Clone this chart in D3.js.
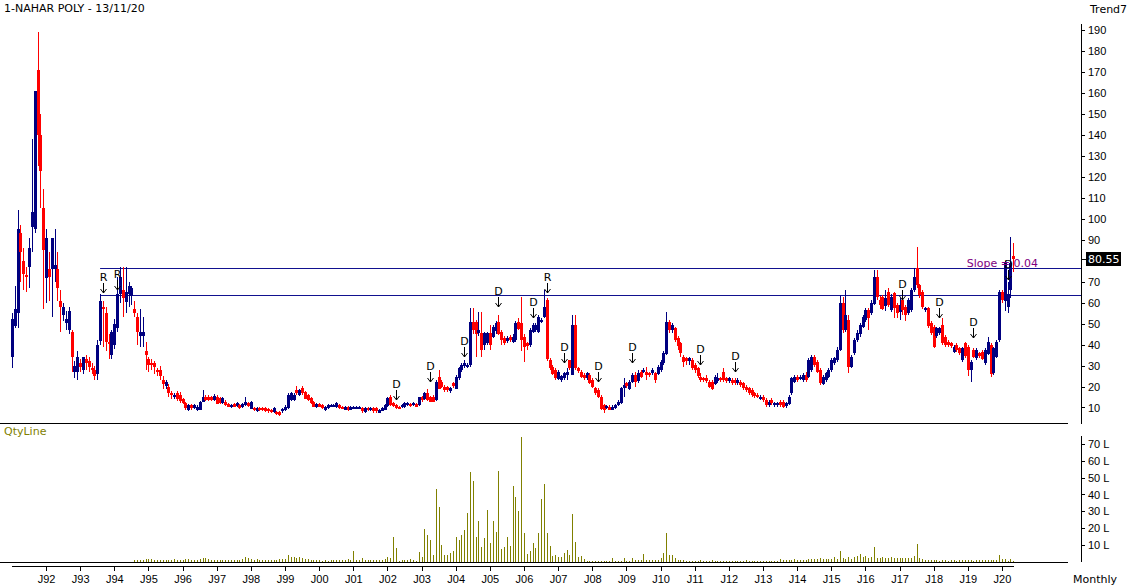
<!DOCTYPE html>
<html>
  <head>
    <meta charset="utf-8">
    <title>1-NAHAR POLY - Monthly</title>
    <script src="https://d3js.org/d3.v7.min.js"></script>
    <style>
      body { margin: 0; background: #fff; }
      svg { display: block; font-family: "DejaVu Sans", Verdana, sans-serif; font-size: 11px; }
      .axis path, .axis line { stroke: #000; shape-rendering: crispEdges; }
      .axis text { fill: #000; font-size: 11px; }
    </style>
  </head>
  <body>
    <div id="chart"></div>
    <script>
      // Monthly candles, Jan 1991 onwards (one row per year)
      const open = [
        34,49,55,93,80,73,77,96,95,171,140,105,
        72,76,76,76,76,61,54,50,47,46,27,27,
        31,28,33,32,29,28,26,42,58,55,41,35,
        40,48,64,66,60,64,63,57,53,44,44,37,
        33,31,31,28,28,23,20,20,17,15,17,16,
        14,12,8.8,11.2,9.6,8.8,8.8,12.8,15.2,15.2,14.8,13.6,
        15.2,14.4,12,12.8,11.7,10.1,11.7,10.4,11.2,10,11.2,12,
        9.6,9.6,8,9.6,9.6,9.6,9.1,8.8,7.6,8,8,8,
        8.8,9.6,13.6,13.6,18.3,16,19.1,17.5,16,14.4,12.8,10.1,
        11.7,11.2,8.8,9.6,10.4,10.4,10,11.2,10.4,9.2,10.4,9.2,
        9.6,9.6,9.6,9.6,8,9.9,8.8,9.6,9.6,7.6,8.6,8.8,
        10.4,15.2,12,11.2,10.4,10.2,10.2,11,11.8,11,11.6,11.2,
        15.2,14,16.8,15.2,15.2,13.6,24.7,22.3,19.9,19.9,17.5,21.5,
        19.1,23.9,27.9,29.5,29.5,30.3,50.9,50.9,45.4,45.4,39.8,40.6,
        45.4,43.8,46.2,50.9,46.2,43,41.4,43.5,41.4,42.2,50.9,50.1,
        43.8,40.6,39.8,46.2,46.9,46.2,50.9,53.3,61.3,32.6,29.5,27.9,
        23.9,23.1,23.9,25.5,32.6,25.5,49.3,28.7,27.1,25.5,23.9,25.5,
        23.1,19.1,18.3,15.2,11.2,9.6,10.4,9.1,9.6,11.2,12,19.1,
        21.5,19.1,22.3,25.5,22.3,27.1,27.1,27.1,26.5,26.3,26.3,26.3,
        27.9,31,35.8,50.9,46.9,47.7,43,40.6,34.2,33.4,31.8,32.6,
        30.2,28.6,24.7,23.9,23.9,22.3,22.3,21.5,22.3,23.9,27.1,23.9,
        22.3,23.1,23.1,21.5,22.3,21.5,19.9,19.1,18.3,16.7,15.9,14.3,
        15.1,13.5,11.2,13.5,11.2,11.2,12.7,12.7,10.4,12,16.7,22.3,
        24.7,23.9,23.1,25.5,24.7,27.9,34.2,31.8,27.9,21.5,23.1,24.7,
        27.8,31,32.6,37.4,59.6,46.9,51.7,29.4,36,42.1,45,48.5,
        51.7,56.5,54.9,59.6,72.3,61.2,62.8,58,65.2,56.5,64.4,58.8,
        55.7,61.2,58,54.9,56.5,66,76.3,68.4,65.2,56.5,57.3,50.1,
        48.5,43.7,45.3,49.3,43.7,41.4,40.6,36.6,39.8,38.2,32.6,40.6,
        39,27.8,37.4,33.4,35.8,36.6,31,35.8,39.8,26.2,34.2,42.1,
        65.2,61,58,66,82
      ];
      const high = [
        55,68,104,97,86,77,91,138,161,189,150,114,
        95,84,91,95,84,66,60,56,58,47,32,37,
        33,34,35,34,31,30,42,64,61,58,45,47,
        52,72,77,77,77,70,68,61,55,57,53,41,
        34,33,32,29,30,25,23,21,18,17,18,17.5,
        14.5,12.5,11.6,11.8,11.6,11,13.2,18.3,16,16,15.6,16.2,
        15.8,15,15,13.4,12.2,11.8,12,12.6,11.8,12,15.2,12.4,
        13.2,10,10,10,10,10,9.6,9.2,10,8.4,8.4,9.6,
        11,16.8,17.6,17,20.3,19,20.3,18,16.5,15,13.2,12.2,
        12,11.6,10.8,11.6,11.6,11.8,12.8,11.6,10.8,10.8,10.8,10.8,
        10.8,10.8,10.8,10,10.2,10.2,10,10,10,9.2,10.2,11.6,
        15,16,12.4,11.6,10.8,11.6,12.4,12.4,12.2,12.4,12,15.2,
        15.6,17.2,19,15.6,16,23,27.9,23,20.7,20.3,19.9,22.3,
        25.5,29.5,31,32.6,31,57.3,57.3,51.7,55.7,55.7,46.2,46.2,
        49.3,49.3,51,54.1,47,44,44,44.6,45,51,52.5,62.8,
        45,41.4,47.7,50.1,50.1,54,52.5,66,62,33.4,30.3,28.7,
        27.9,25.5,27.1,28.7,32.6,54.1,54.1,29.5,27.9,26.3,27.1,26.3,
        23.9,19.9,19.1,16,11.6,11,11,11,11.6,13.6,19.9,23.9,
        22.3,23.1,26.3,27.1,27.9,28,28.7,29.5,27.1,28.7,27.1,30.3,
        32.6,37,55.7,51.7,50.1,48.5,44,41.4,35,34.2,34.2,33.4,
        31,29.4,26.3,24.7,25.5,23.1,23.1,25.5,26.3,24.7,28.6,24.7,
        24.7,23.9,23.9,23.9,23.1,22.3,20.7,19.9,19.1,17.5,16.7,15.9,
        15.9,14.3,13.5,14.3,12.7,12.7,13.5,13.5,12.7,15.9,24.7,25.5,
        25.5,25.5,26.3,27.1,33.4,35,35,32.6,28.6,25.5,27,28.6,
        33.4,34.2,39,63.6,62.8,66,54,35,43,46.9,50.1,54.1,
        57.3,57.3,61.2,75.5,75.5,63,63.6,66,67,64,65.2,60,
        62,66,59,62,67,76.3,86.6,69,66,58,58,51,
        49.3,48.5,48.5,52.5,44.5,42.1,41.4,39.8,40.6,39,39,41.4,
        39.8,32.6,38.2,38.2,36.6,37.4,38.2,43.7,40.6,39,42.1,66,
        66,80,70,91.4,88.4
      ];
      const low = [
        29,48,48,70,66,65,67,84,93,125,105,57,
        60,61,53,70,61,46,51,47,45,27,24,23,
        27,26,28,27,26,23,23,40,39,37,33,33,
        38,46,60,53,55,58,59,53,40,39,39,28,
        27,28,26,25,23,19,19,15,14,14,13,12,
        11.5,9,8.5,9,9.2,8.4,8.6,12.4,13,13,13,13.2,
        11.5,11.6,11.6,10.8,10,9.8,10,10,9.2,9.6,10.8,10,
        9.2,8.4,7.8,8.4,8.4,8,7.6,7.4,7.2,6.4,6,7.6,
        8.4,9.2,13,13,16,15.5,16,14,13,11.5,10,9.8,
        10,9.2,8.4,9.2,10,10,9.6,9.2,9.2,8.8,8.4,8.8,
        9.2,9.2,9.2,7.6,7.6,8.4,8.4,7.6,7.6,7.2,8.4,8.6,
        10,10.8,10.4,9.2,9.2,9.8,9.8,10.6,10.4,10.6,10,10.8,
        12.4,13.6,13.2,12.4,12.4,13.2,18.7,19.1,17.5,17.5,16.8,19.1,
        18.7,23.1,27.1,28.7,28.7,29.5,45,34.2,44,34.2,37.4,39.8,
        37.4,43,45,44.6,40,39.8,40.6,41.4,40.6,41.4,46.9,37,
        31.8,37.4,39,45.4,46.2,45.4,50.1,52.5,32,27.9,25.5,23.1,
        23.1,22.3,23.1,23.1,27.9,25.5,27.9,26.3,23.9,23.1,23.1,21,
        19.1,16,14.4,8.8,7.2,9.1,8.8,8.8,9.1,10.7,11.6,15.2,
        19.1,18.3,21.5,19.9,21.5,24,26.3,23.1,24.7,25.5,21.5,25.5,
        27.1,30.3,35,45.4,45.4,41.4,37.4,34.2,29.4,30.2,30.2,27.9,
        26.3,24,22.3,22.3,21.5,19.1,18.3,20.7,21.5,22.3,22.3,21.5,
        21.5,20.7,20.7,20.7,19.9,18.3,17.5,16,15.1,14.3,14.3,13.5,
        12.7,10.4,10.4,11.2,10.4,10.4,10.4,9.6,9.6,11.2,15.9,21.5,
        22.3,23.1,22.3,22.3,24,27.1,29.4,26.3,20.7,20.7,22.3,24,
        27,30.2,31.8,37,45.3,46,26.2,28.6,35,41.4,43.7,47.7,
        50.9,46.9,54.1,59,61.2,57,56.5,56,58,55.7,52.5,52.5,
        51.7,54.1,51,54,55.7,65.2,67,62,57,55.7,47.7,44.5,
        38.2,42.9,44.5,39.8,39,39,38.2,35.8,36.6,35,31.8,33.4,
        25,22.3,33.4,32.6,33.4,32.6,30.2,35,24.7,25.4,33.4,41.4,
        60,56,55,62,74.6
      ];
      const close = [
        52,57,95,84,74,72,86,103,161,140,123,85,
        91,72,91,78,67,58,58,52,56,34,30,34,
        29,34,31,29,28,25,40,61,57,41,40,46,
        50,64,72,62,65,68,67,55,46,46,46,35,
        30,30,29,27,25,21,22,17,16,16,14,13,
        12,9.6,11.2,9.6,11.2,10.4,12.8,15.2,13.6,13.6,13.6,15.5,
        12,12,14.4,11.2,10.4,11.2,10.4,12,9.6,11.5,12.8,10.4,
        12.8,8.8,9.6,8.8,8.8,8.4,8,8,9.6,6.9,6.4,9.1,
        10.4,16,16.8,16,16.8,18.3,16.8,14.4,13.6,12,10.4,11.7,
        10.4,9.6,10.4,11.2,11.2,11.2,12,9.6,9.6,10.4,8.8,10.4,
        10.4,10.4,10.4,8,9.9,8.8,9.6,8,8,8.8,9.9,11.2,
        14.4,11.2,10.8,9.6,9.6,11.2,12,12,10.8,12,10.4,14.8,
        13.6,16.8,13.6,12.8,12.8,22.3,19.1,19.9,18.3,18.3,19.1,19.9,
        24.7,28.7,30.3,31,30.3,50.9,46.9,45.4,46.9,37.4,45.4,45.4,
        39.8,48.5,50.1,45.4,42.2,40.6,43,42.2,43.8,50.1,47.7,42.2,
        39,39,46.9,49.3,49.3,53.3,51.7,58.1,33.4,28.7,26.3,23.9,
        27.1,25,26.3,27.1,28.7,49.3,28.7,27.1,24.7,23.9,26.3,21.5,
        19.9,16.8,15.2,9.6,8.8,10.7,9.1,10.4,11.2,12.8,19.1,20.7,
        19.9,22.3,25.5,22.3,26.3,24.7,27.9,25.5,25.5,27.9,23.1,29.5,
        31.8,35.8,50.9,46.9,49.3,42.2,39,35.8,31.8,31.8,33.4,28.6,
        27.9,24.7,23.1,23.1,22.3,19.9,19.1,24.7,23.9,23.1,23.1,22.3,
        23.9,21.5,21.5,23.1,20.7,19.1,18.3,16.7,15.9,15.1,15.1,15.1,
        13.5,11.2,12.7,12,12,12,11.2,10.4,12,15.1,23.9,24.7,
        23.1,24.7,25.5,23.1,32.6,34.2,30.2,27.1,21.5,24.7,26.2,27.8,
        32.6,33.4,37.4,59.6,46.9,54,29.4,34.2,42.1,45.3,49.3,53.3,
        56.5,52.5,59.6,72.3,62.8,58.8,57.3,62,59,62.8,57.3,54.9,
        58.8,56.5,54.1,61.2,66,72.3,68.4,63.6,58,57.3,48.5,45.3,
        39,47.7,47.7,40.6,39.8,39.8,39,39,37.4,36,38.2,34.2,
        27.8,31.8,34.2,37.4,34.2,33.4,37.4,41.4,26.2,38.2,41.4,65.2,
        61.2,79,64,79,80.55
      ];
      // Monthly quantity, in lakhs
      const qty = [
        0,0,0,0,0,0,0,0,0,0,0,0,
        0,0,0,0,0,0,0,0,0,0,0,0,
        0,0,0,0,0,0,0,0,0,0,0,0,
        0,0,0,0,0,0,0,1.2,1,1.3,1.2,1.4,
        1.5,1.4,1,1,1.1,0.9,1,1,1.2,1.4,1.1,1,
        1.3,1.4,1.5,1.2,1,1.1,1.6,2.5,2,1.4,1.2,1.3,
        1.1,1.2,1,0.9,1,1.1,1.2,1,1.1,1.4,3,2,
        1.6,1.2,1.4,1,1.1,1,1.2,1,1.1,1.2,1.5,1.4,
        1.4,4.2,2.8,3,2.4,3,2,1.6,1.5,1.1,1,1,
        0.9,0.6,1,0.7,0.8,1,0.9,1,1.2,1,1.4,1,
        6.6,0.8,1.1,2.5,1.2,1,1.1,1,1.2,1,1,1.4,
        3,2,14.9,8.3,0.6,1,1,1,1.8,1,0.6,6,
        3,19.7,16,12.9,4,43.3,32.8,10,4,4.2,5.4,6.4,
        14.9,13,16,18.9,28.8,53.6,48,14.9,24.4,9,14.3,30.8,
        11.4,24.2,17.9,54,7.6,9,14.9,9.4,45,38.7,30.4,74.3,
        16.9,4.6,6.4,11.4,8.2,16.9,37.3,46.2,16.9,9.4,3.4,4,
        3,3,5.3,7,4,28.2,11.9,3,3.4,1.4,0.6,0.5,
        0.5,0.5,0.5,0.7,0.7,0.7,0.7,2,0.6,0.6,0.6,2.2,
        0.6,0.6,2.2,1,1,0.8,4.6,1.2,1.2,1.2,1.2,1.2,
        2.4,5,16.9,4,4,2,1,0.8,0.8,0.6,0.6,0.6,
        0.6,0.6,0.8,0.6,0.6,0.6,0.8,0.6,0.6,0.6,0.6,0.6,
        0.6,0.6,0.6,0.6,0.6,0.6,0.8,0.6,0.6,0.6,0.5,0.5,
        0.5,0.5,0.5,0.5,0.5,0.5,1.6,1,1,1,1,1.8,
        1.3,1.3,1.3,1.3,1.6,1.8,1.6,1.8,2,1.5,1.5,1.6,
        1.5,2.6,1.5,6.4,2,1.4,2.8,1.4,2.6,3.4,4.8,3,
        3.6,2.2,3,9,2.5,2.5,2.6,2.4,2.5,2.6,2,2,
        2,2,2.2,2,2,3.4,10.6,2,1.6,0.8,0.8,0.8,
        0.9,0.8,0.7,0.8,0.8,0.7,0.8,0.8,0.7,0.8,0.9,0.8,
        0.8,0.8,0.7,0.8,1,0.8,1,1.2,1,0.8,1,4,
        1.4,1.6,0.6,1.4,0.5
      ];

      // Year labels sit on every January candle, starting Jan 1992
      const yearLabels = ["J92","J93","J94","J95","J96","J97","J98","J99","J00","J01","J02","J03","J04","J05",
        "J06","J07","J08","J09","J10","J11","J12","J13","J14","J15","J16","J17","J18","J19","J20"];
      // 80 is hidden behind the last-close tag
      const priceTicks = [10,20,30,40,50,60,70,90,100,110,120,130,140,150,160,170,180,190];
      const qtyTicks = [10,20,30,40,50,60,70];

      // Support / resistance levels and the signal markers
      const levels = [76.7, 63.8];
      const levelStart = 31;
      const slopeText = "Slope = 0.04";
      const markIdx = [32, 37, 135, 147, 159, 171, 183, 188, 194, 206, 218, 242, 254, 313, 326, 338, 350];
      const markText = ["R","R","D","D","D","D","D","R","D","D","D","D","D","D","D","D","D"];
      const markTip = [64.4, 66, 13.6, 22.1, 34, 57.9, 52.7, 64.6, 31.2, 22.1, 31.2, 30.2, 26.9, 61.2, 52.7, 43.1, 70.8];

      const N = close.length;
      const up = "#000080", down = "#ff0000", olive = "#808000";

      const svg = d3.select("#chart").append("svg")
        .attr("width", 1133)
        .attr("height", 587);

      // Scales
      const x = d3.scaleLinear().domain([0, N - 1]).range([11.9, 1013.3]);
      const y = d3.scaleLinear().domain([2.6, 193.3]).range([423, 23]);
      const yq = d3.scaleLinear().domain([0, 75.3]).range([561.8, 435.1]);
      const cx = i => Math.round(x(i));
      const idx = d3.range(N);

      // Titles
      svg.append("text").attr("x", 4).attr("y", 12).text("1-NAHAR POLY - 13/11/20");
      svg.append("text").attr("x", 1090).attr("y", 13).text("Trend7");
      svg.append("text").attr("x", 4).attr("y", 435).attr("fill", olive).text("QtyLine");
      svg.append("text").attr("x", 1073).attr("y", 583).text("Monthly");

      // Panel separators
      svg.append("g").selectAll("line").data([423.5, 562.5]).join("line")
        .attr("x1", 0).attr("x2", 1068).attr("y1", d => d).attr("y2", d => d)
        .attr("stroke", "#000");

      // Horizontal levels
      svg.append("g").selectAll("line").data(levels).join("line")
        .attr("x1", x(levelStart)).attr("x2", 1081)
        .attr("y1", d => Math.round(y(d)) + 0.5).attr("y2", d => Math.round(y(d)) + 0.5)
        .attr("stroke", "#11118f");

      // Candles: wick then body
      const candles = svg.append("g").attr("shape-rendering", "crispEdges");
      candles.selectAll("line").data(idx).join("line")
        .attr("x1", i => cx(i) + 0.5).attr("x2", i => cx(i) + 0.5)
        .attr("y1", i => Math.round(y(Math.max(high[i], open[i], close[i]))))
        .attr("y2", i => Math.round(y(Math.min(low[i], open[i], close[i]))))
        .attr("stroke", i => close[i] >= open[i] ? up : down);
      candles.selectAll("rect").data(idx).join("rect")
        .attr("x", i => cx(i) - 1)
        .attr("width", 3)
        .attr("y", i => Math.round(y(Math.max(open[i], close[i]))))
        .attr("height", i => Math.max(1, Math.round(Math.abs(y(open[i]) - y(close[i])))))
        .attr("fill", i => close[i] >= open[i] ? up : down);

      // R / D markers with down arrows
      const marks = svg.append("g").selectAll("g").data(markIdx).join("g")
        .attr("transform", (d, k) => `translate(${cx(d) + 0.5}, ${Math.round(y(markTip[k]))})`);
      marks.append("text").attr("y", -12).attr("text-anchor", "middle")
        .text((d, k) => markText[k]);
      marks.append("path").attr("d", "M0,-10V0M-3,-4L0,0L3,-4")
        .attr("fill", "none").attr("stroke", "#000");

      svg.append("text").attr("x", x(336) - 1).attr("y", Math.round(y(levels[0])) - 1)
        .attr("fill", "#800080").text(slopeText);

      // Price axis on the right
      svg.append("g").attr("class", "axis").attr("transform", "translate(1081,0)")
        .call(d3.axisRight(y).tickValues(priceTicks).tickSize(4).tickPadding(3).tickSizeOuter(0));

      // Last close tag
      const lastY = Math.round(y(close[N - 1]));
      svg.append("line").attr("x1", 1081).attr("x2", 1086).attr("y1", lastY + 0.5).attr("y2", lastY + 0.5).attr("stroke", "#000");
      svg.append("rect").attr("x", 1086).attr("y", lastY - 7).attr("width", 35).attr("height", 14).attr("fill", "#000");
      svg.append("text").attr("x", 1088).attr("y", lastY + 4).attr("fill", "#fff").text(close[N - 1].toFixed(2));

      // Quantity bars
      svg.append("g").attr("shape-rendering", "crispEdges")
        .selectAll("line").data(idx.filter(i => qty[i] > 0)).join("line")
        .attr("x1", i => cx(i) + 0.5).attr("x2", i => cx(i) + 0.5)
        .attr("y1", 562).attr("y2", i => Math.round(yq(qty[i])))
        .attr("stroke", olive);

      svg.append("g").attr("class", "axis").attr("transform", "translate(1081,0)")
        .call(d3.axisRight(yq).tickValues(qtyTicks).tickFormat(d => d + " L").tickSize(4).tickPadding(3).tickSizeOuter(0));

      // Time axis
      const xAxis = svg.append("g").attr("class", "axis").attr("transform", "translate(0,565.5)")
        .call(d3.axisBottom(x).tickValues(yearLabels.map((d, k) => 12 + 12 * k))
          .tickFormat((d, k) => yearLabels[k]).tickSize(5).tickPadding(5).tickSizeOuter(0));
      xAxis.selectAll("path, line").attr("stroke", "#e35b5b");
    </script>
  </body>
</html>
